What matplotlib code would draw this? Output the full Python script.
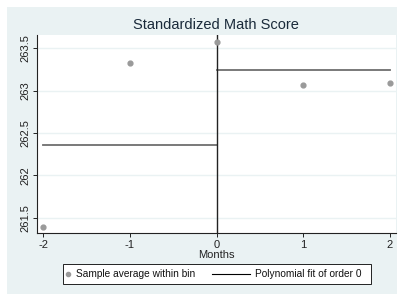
import matplotlib.pyplot as plt
from matplotlib.patches import Rectangle
from matplotlib.lines import Line2D

plt.rcParams['font.family'] = ['Liberation Sans', 'DejaVu Sans']

# data
months = [-2, -1, 0, 1, 2]
bin_means = [261.394, 263.323, 263.578, 263.063, 263.086]
fit_left = 262.357   # order-0 fit, months < 0
fit_right = 263.244  # order-0 fit, months >= 0
y_ticks = [261.5, 262, 262.5, 263, 263.5]
y_tick_labels = ['261.5', '262', '262.5', '263', '263.5']
x_ticks = [-2, -1, 0, 1, 2]
legend_labels = ['Sample average within bin', 'Polynomial fit of order 0']

W, H = 404, 295
def fx(px):
    return px / W
def fy(py):
    return 1 - py / H

fig = plt.figure(figsize=(W / 100, H / 100), dpi=100)
fig.patch.set_facecolor('white')
bg = '#eaf2f3'
fig.patches.append(Rectangle((fx(7), fy(294)), 390 / W, 287 / H,
                             transform=fig.transFigure, facecolor=bg,
                             edgecolor='none', zorder=-10))

ax = fig.add_axes([fx(37), fy(233), 359 / W, 198 / H])
ax.set_facecolor('white')
ax.set_xlim(-2.073, 2.07)
ax.set_ylim(261.319, 263.657)

for t in y_ticks:
    ax.axhline(t, color=bg, lw=1, zorder=0)

ax.scatter(months, bin_means, s=12, color='#9a9a9a', zorder=3)
ax.plot([-2, 0], [fit_left, fit_left], color='#6e6e6e', lw=1.3, zorder=2)
ax.plot([0, 2], [fit_right, fit_right], color='#6e6e6e', lw=1.3, zorder=2)
ax.axvline(0, color='#222222', lw=1, zorder=2)

for s in ['top', 'right']:
    ax.spines[s].set_visible(False)
for s in ['left', 'bottom']:
    ax.spines[s].set_color('#222222')
    ax.spines[s].set_linewidth(0.8)

ax.set_xticks(x_ticks)
ax.set_xticklabels([str(x) for x in x_ticks], fontsize=8, color='#222222')
ax.set_yticks(y_ticks)
ax.set_yticklabels(y_tick_labels, fontsize=8, color='#222222',
                   rotation=90, va='center')
ax.tick_params(length=3, width=0.6, pad=2)
ax.set_xlabel('Months', fontsize=8, color='#222222', labelpad=0)
fig.text(fx(216), fy(25), 'Standardized Math Score', fontsize=10.5,
         color='#1a2a3a', ha='center', va='center')

# legend drawn by hand, Stata style
fig.patches.append(Rectangle((fx(62.5), fy(284)), 308 / W, 20.5 / H,
                             transform=fig.transFigure, facecolor='white',
                             edgecolor='black', lw=0.6))
fig.lines.append(Line2D([fx(67.7)], [fy(274)], marker='o', markersize=3,
                        color='#9a9a9a', ls='none', transform=fig.transFigure))
fig.text(fx(76.5), fy(274), legend_labels[0], fontsize=7.3, color='#111111',
         ha='left', va='center')
fig.lines.append(Line2D([fx(212), fx(250)], [fy(274), fy(274)], color='black',
                        lw=0.8, transform=fig.transFigure))
fig.text(fx(255), fy(274), legend_labels[1], fontsize=7.3, color='#111111',
         ha='left', va='center')

fig.savefig('out.png', dpi=100, facecolor=fig.get_facecolor())
